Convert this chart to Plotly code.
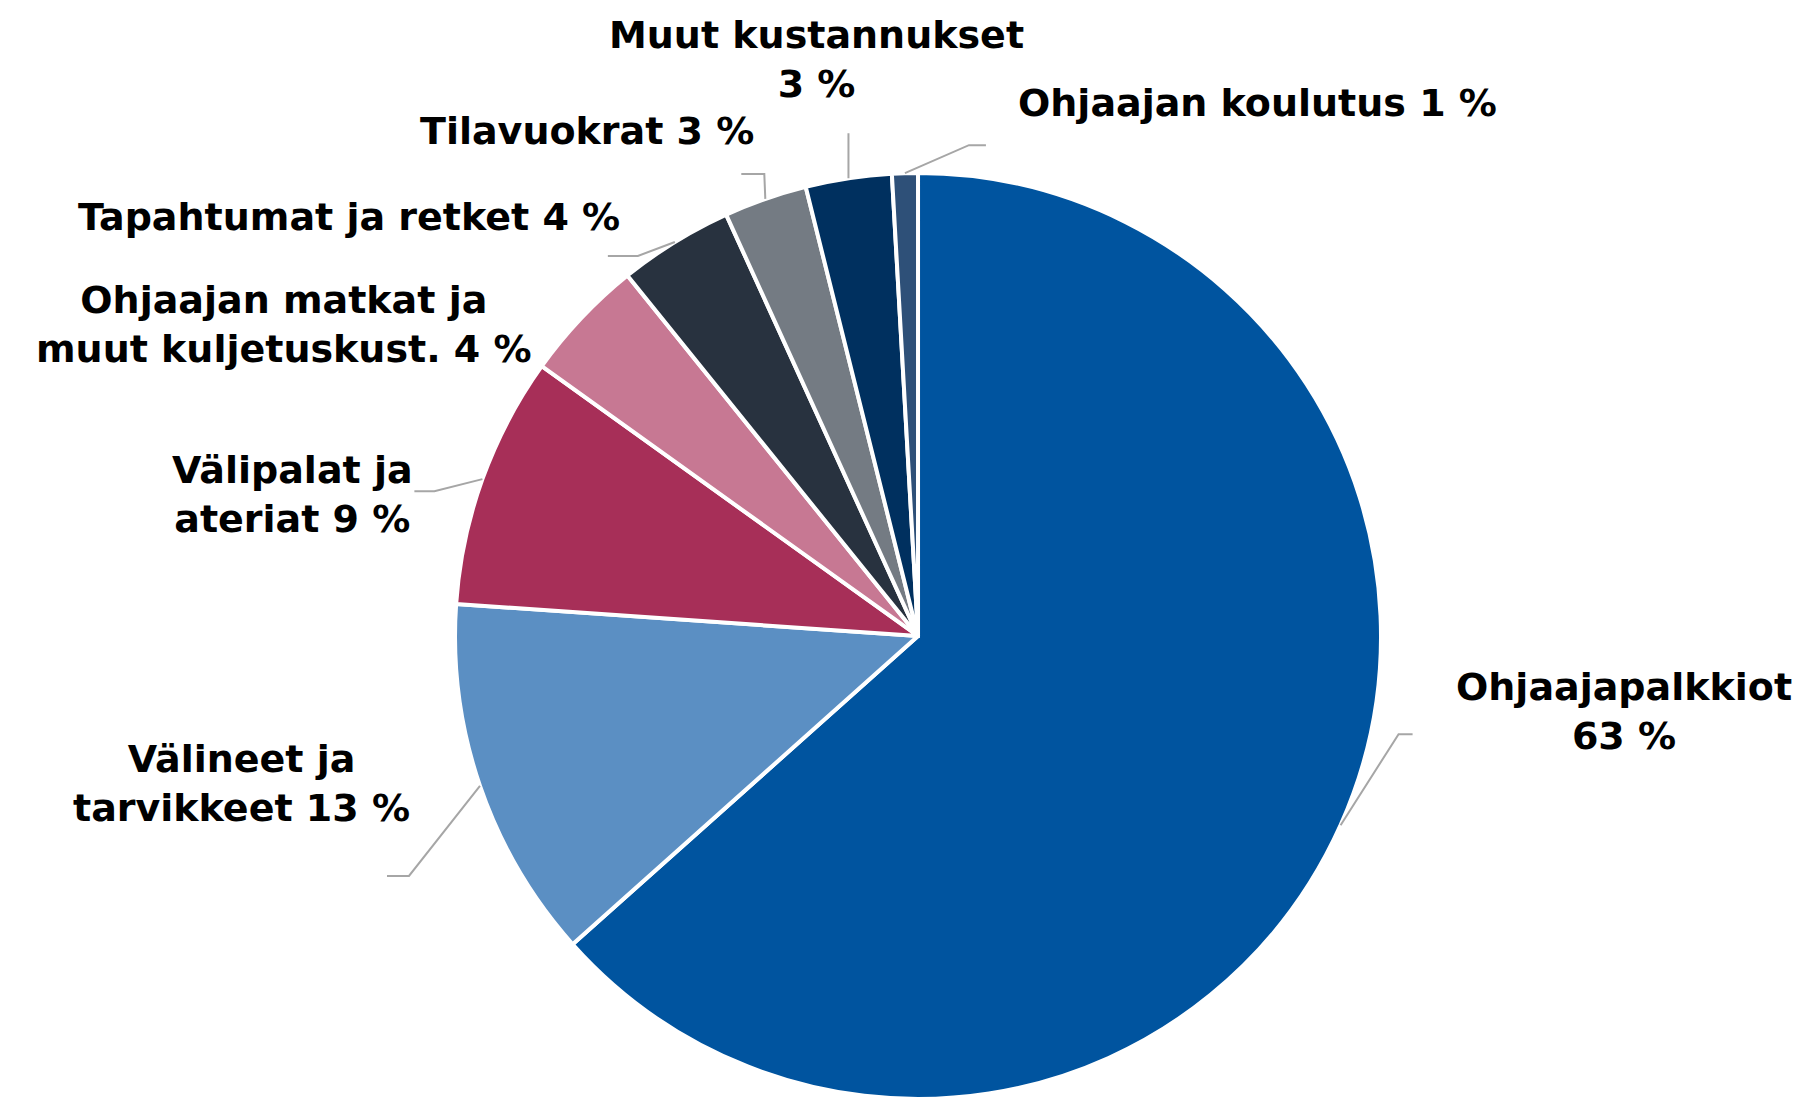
import math
import plotly.graph_objects as go

# ---- data ----
categories = [
    "Ohjaajapalkkiot",
    "Välineet ja tarvikkeet",
    "Välipalat ja ateriat",
    "Ohjaajan matkat ja muut kuljetuskust.",
    "Tapahtumat ja retket",
    "Tilavuokrat",
    "Muut kustannukset",
    "Ohjaajan koulutus",
]
shares = [63.4, 12.7, 8.8, 4.3, 4.0, 2.9, 3.0, 0.9]
label_text = [
    "Ohjaajapalkkiot<br>",
    "Välineet ja<br>tarvikkeet ",
    "Välipalat ja<br>ateriat ",
    "Ohjaajan matkat ja<br>muut kuljetuskust. ",
    "Tapahtumat ja retket ",
    "Tilavuokrat ",
    "Muut kustannukset<br>",
    "Ohjaajan koulutus ",
]

# ---- styling / layout ----
colors = ["#00549F", "#5B8FC3", "#A72F58", "#C77893",
          "#28323F", "#747B83", "#00305F", "#2E5078"]
W, H = 1809, 1097
dom_x = [0.2471, 0.7590]
dom_y = [0.0055, 0.8496]
# label centre offset from slice edge midpoint (px, y down)
label_offset = [(283, -114), (-238, -2), (-190, 15), (-298, 7),
                (-326, -25), (-178, -68), (-32, -119), (353, -70)]
# leader line bend points relative to edge midpoint (px, y down)
leader = [[(58, -91), (72, -91)], [(-71, 90), (-93, 90)], [(-48, 12), (-68, 12)], None,
          [(-37, 14), (-67, 14)], [(-1, -25), (-24, -25)], [(0, -45)], [(64, -28), (81, -28)]]

fig = go.Figure(go.Pie(
    labels=categories, values=shares, sort=False, direction="clockwise", rotation=0,
    marker=dict(colors=colors, line=dict(color="white", width=4)),
    textinfo="none", showlegend=False, domain=dict(x=dom_x, y=dom_y),
))

cx = (dom_x[0] + dom_x[1]) / 2 * W
cy = H - (dom_y[0] + dom_y[1]) / 2 * H
r = min((dom_x[1] - dom_x[0]) * W, (dom_y[1] - dom_y[0]) * H) / 2
total = sum(shares)

def to_paper(px, py):
    return px / W, 1 - py / H

annotations = []
shapes = []
cum = 0.0
for i, v in enumerate(shares):
    mid = (cum + v / 2) / total * 2 * math.pi
    cum += v
    ex = cx + r * math.sin(mid)
    ey = cy - r * math.cos(mid)
    ox, oy = label_offset[i]
    tx, ty = to_paper(ex + ox, ey + oy)
    annotations.append(dict(
        x=tx, y=ty, xref="paper", yref="paper", xanchor="center", yanchor="middle",
        showarrow=False, align="center",
        text="<b>" + label_text[i] + f"{round(v)} %" + "</b>",
        font=dict(family="Verdana, DejaVu Sans, sans-serif", size=38, color="black"),
    ))
    if leader[i]:
        pts = [(ex, ey)] + [(ex + dx, ey + dy) for dx, dy in leader[i]]
        path = ""
        for j, (px, py) in enumerate(pts):
            qx, qy = to_paper(px, py)
            path += ("M" if j == 0 else " L") + f"{qx:.5f},{qy:.5f}"
        shapes.append(dict(type="path", xref="paper", yref="paper", path=path,
                           line=dict(color="#A6A6A6", width=2)))

fig.update_layout(
    width=W, height=H, margin=dict(l=0, r=0, t=0, b=0),
    paper_bgcolor="white", plot_bgcolor="white",
    annotations=annotations, shapes=shapes,
)

fig.write_html("out.html")
